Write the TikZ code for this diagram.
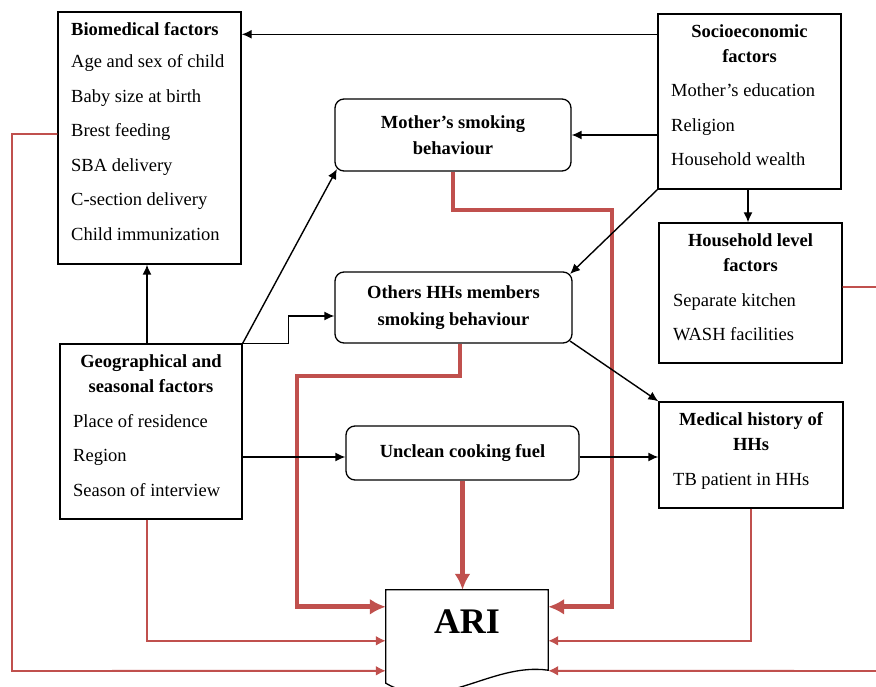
\documentclass[tikz,border=0pt]{standalone}
\usepackage{fontspec}
\setmainfont{Liberation Serif}
\usetikzlibrary{arrows.meta}

\definecolor{arired}{RGB}{192,80,77}

\tikzset{
  factor/.style={draw, line width=1.4pt, inner sep=0pt},
  pathway/.style={draw, line width=1.3pt, rounded corners=9pt, inner sep=0pt, align=center,
    font=\fontsize{18.5}{26.5}\selectfont\bfseries},
  head/.style={font=\fontsize{18.5}{25}\selectfont\bfseries, align=center, anchor=base, inner sep=0pt},
  item/.style={font=\fontsize{18.5}{22}\selectfont, anchor=base west, inner sep=0pt},
  link/.style={-{Latex[length=10pt,width=9pt]}, line width=1.4pt},
  effect/.style={-{Latex[length=10pt,width=10pt]}, arired, line width=1.9pt},
  bigeffect/.style={-{Latex[length=16pt,width=16pt]}, arired, line width=4.8pt},
}

\begin{document}
\begin{tikzpicture}[x=1pt,y=-1pt]
\useasboundingbox (0,0) rectangle (876,687);

% factor boxes
\node[factor, minimum width=183pt, minimum height=252pt] (bio) at (149.5,138) {};
\node[factor, minimum width=183pt, minimum height=175pt] (socio) at (749.5,101.5) {};
\node[factor, minimum width=183pt, minimum height=140pt] (house) at (750.5,293) {};
\node[factor, minimum width=182pt, minimum height=175pt] (geo) at (151,431.5) {};
\node[factor, minimum width=184pt, minimum height=106pt] (medical) at (751,455) {};

% pathways
\node[pathway, minimum width=236pt, minimum height=72pt] (mother) at (453,135) {Mother’s smoking\\behaviour};
\node[pathway, minimum width=237pt, minimum height=71pt] (others) at (453.5,307.5) {Others HHs members\\smoking behaviour};
\node[pathway, minimum width=233pt, minimum height=54pt] (unclean) at (462.5,453) {Unclean cooking fuel};

% outcome
\node[font=\fontsize{36}{40}\selectfont\bfseries, minimum width=162pt, minimum height=93pt,
  text height=24pt, text depth=31pt, inner sep=0pt] (ari) at (467,636.5) {ARI};
\draw[line width=1.3pt] (ari.north west) -- (ari.north east) -- ([yshift=13pt]ari.south east)
  .. controls (490,662) and (440,715) .. (ari.south west) -- cycle;

% texts in the boxes
\node[item] (bioH) at (71,36) {\bfseries Biomedical factors};
\foreach \txt [count=\i] in {Age and sex of child, Baby size at birth, Brest feeding,
  SBA delivery, C-section delivery, Child immunization}
  \node[item] (bio\i) at (71,33.5+34.5*\i) {\txt};

\node[head] (socioH) at (749.5,63) {Socioeconomic\\factors};
\foreach \txt [count=\i] in {Mother’s education, Religion, Household wealth}
  \node[item] (socio\i) at (671,62.5+34.5*\i) {\txt};

\node[head] (houseH) at (750.5,272) {Household level\\factors};
\foreach \txt [count=\i] in {Separate kitchen, WASH facilities}
  \node[item] (house\i) at (673,271.5+34.5*\i) {\txt};

\node[head] (geoH) at (151,392) {Geographical and\\seasonal factors};
\foreach \txt [count=\i] in {Place of residence, Region, Season of interview}
  \node[item] (geo\i) at (73,392.5+34.5*\i) {\txt};

\node[head] (medicalH) at (751,450) {Medical history of\\HHs};
\node[item] (medical1) at (673,485) {TB patient in HHs};

% effects on ARI
\draw[bigeffect] (mother.south) |- (612,210) |- ([yshift=-17pt]ari.north east);
\draw[bigeffect] ([xshift=6.5pt]others.south) |- (297,376) |- ([yshift=-17pt]ari.north west);
\draw[bigeffect] (unclean.south) -- (unclean.south |- ari.north);
\draw[effect] ([xshift=-4pt]geo.south) |- ([yshift=-51pt]ari.north west);
\draw[effect] ([yshift=4pt]bio.west) -| (12,671) -- ([yshift=-81pt]ari.north west);
\draw[effect] (medical.south) |- ([yshift=-51pt]ari.north east);
\draw[effect] ([yshift=6pt]house.east) -| (884,671) -- ([yshift=-81pt]ari.north east);

% links between factors
\draw[link] ([yshift=-21pt]socio.north west) -- ([yshift=-23pt]bio.north east);
\draw[link] (socio.west |- mother.east) -- (mother.east);
\draw[link] ([xshift=-1.5pt]socio.south) -- ([xshift=-2.5pt]house.north);
\draw[link] (socio.south west) -- ([xshift=-2.6pt,yshift=-2.6pt]others.north east);
\draw[link] ([xshift=-4pt]geo.north) -- ([xshift=-4pt]geo.north |- bio.south);
\draw[link] (geo.north east) -- ([xshift=2.6pt,yshift=2.6pt]mother.south west);
\draw[link] (geo.north east) -- ++(46,0) |- ([yshift=-8.5pt]others.west);
\draw[link] (geo.east |- 0,457) -- ([yshift=-4pt]unclean.west);
\draw[link] ([yshift=-4pt]unclean.east) -- (medical.west |- 0,457);
\draw[link] ([xshift=-2.6pt,yshift=2.6pt]others.south east) -- (medical.north west);
\end{tikzpicture}
\end{document}
